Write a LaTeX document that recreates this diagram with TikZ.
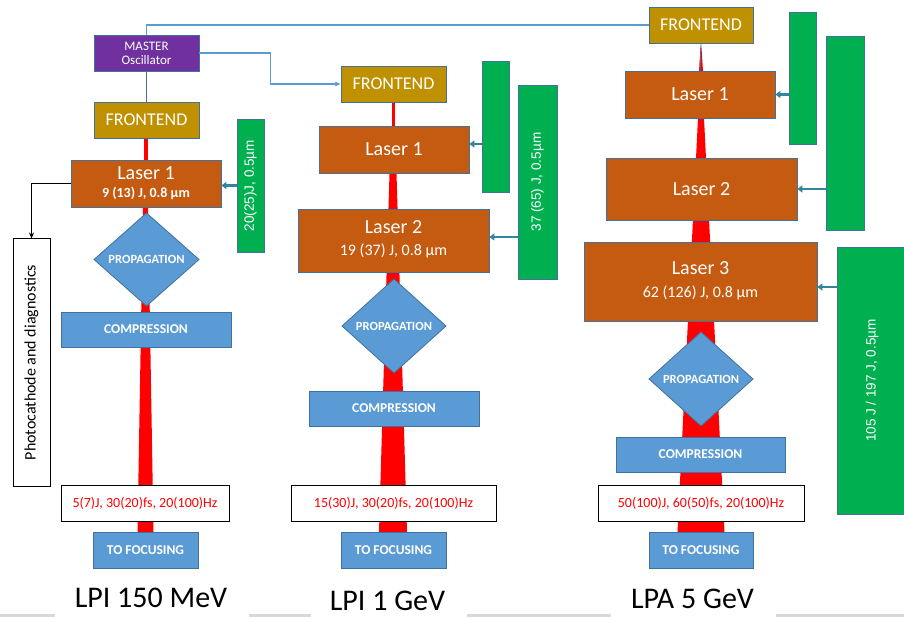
\documentclass[tikz,border=0pt]{standalone}
\usepackage{fontspec}
\setmainfont{Carlito}
\newfontfamily\gfont{Liberation Sans}
\usetikzlibrary{arrows.meta}
\definecolor{mpurple}{HTML}{7030A0}
\definecolor{mgold}{HTML}{BF9000}
\definecolor{morange}{HTML}{C55A11}
\definecolor{mgreen}{HTML}{00B050}
\definecolor{mblue}{HTML}{5B9BD5}
\definecolor{medge}{HTML}{41719C}
\definecolor{mteal}{HTML}{31859C}
\definecolor{mred}{HTML}{FF0000}
\definecolor{mgray}{HTML}{D9D9D9}
\newcommand\myfs[1]{\fontsize{#1}{#1}\selectfont}
\pgfdeclarelayer{bg}
\pgfsetlayers{bg,main}
\begin{document}
\begin{tikzpicture}[x=1pt,y=-1pt,
  box/.style={draw=medge, line width=0.8pt, inner sep=0pt, text=white, align=center},
  osc/.style={box, fill=mpurple, minimum width=105pt, minimum height=36pt, font=\myfs{13}},
  front/.style={box, fill=mgold, minimum height=36pt, font=\myfs{18}},
  laser/.style={box, fill=morange},
  ltext/.style={text=white, inner sep=0pt, font=\myfs{20}},
  lsub/.style={text=white, inner sep=0pt, font=\myfs{16}},
  gbar/.style={box, fill=mgreen},
  gtext/.style={rotate=90, text=white, inner sep=0pt, font=\gfont\myfs{13.5}},
  bluebox/.style={box, fill=mblue, minimum height=35pt, font=\bfseries\myfs{13.5}},
  diam/.style={fill=mblue, draw=medge, line width=0.8pt},
  dtext/.style={text=white, inner sep=0pt, font=\bfseries\myfs{12.5}},
  outbox/.style={draw=black, line width=1pt, fill=white, minimum height=36pt, inner sep=0pt, text=mred, font=\myfs{14}},
  beam/.style={fill=mred},
  feed/.style={mteal, line width=2.5pt, -{Triangle[length=5pt,width=7pt]}},
  sync/.style={mblue, line width=1.1pt},
  title/.style={anchor=base, inner sep=0pt, font=\myfs{30}}]
\useasboundingbox (0,0) rectangle (904,617);

% ---------- left column: LPI 150 MeV ----------
\node[osc] (master) at (146.5,53) {MASTER\\[1pt]Oscillator};
\node[front, minimum width=105pt] (feL) at (146.5,120) {FRONTEND};
\node[laser, minimum width=150pt, minimum height=47pt] (laserL1) at (146,183.5) {};
\node[ltext] (laserL1a) at (146,173) {Laser 1};
\node[lsub, font=\bfseries\myfs{14}] (laserL1b) at (146,193) {9 (13) J, 0.8 µm};
\node[gbar, minimum width=27pt, minimum height=133pt] (greenL) at (250.5,185.5) {};
\node[gtext] (greenLt) at (greenL.center) {20(25)J, 0.5µm};
\node[draw=black, line width=1pt, fill=white, minimum width=37pt, minimum height=247pt, inner sep=0pt] (photo) at (31.5,362.5) {};
\node[rotate=90, inner sep=0pt, font=\myfs{16}] (photot) at (photo.center) {Photocathode and diagnostics};
\path[diam] (94,259.5) -- (146.5,213) -- (199,259.5) -- (146.5,306) -- cycle;
\node[dtext] (propL) at (146.5,259.5) {PROPAGATION};
\node[bluebox, minimum width=170pt] (compL) at (146,329.5) {COMPRESSION};
\node[outbox, minimum width=168pt] (outL) at (145,503) {5(7)J, 30(20)fs, 20(100)Hz};
\node[bluebox, minimum width=105pt, minimum height=36pt] (focL) at (145.5,550) {TO FOCUSING};
\node[title] (tL) at (151,607) {LPI 150 MeV};

% ---------- middle column: LPI 1 GeV ----------
\node[front, minimum width=105pt] (feM) at (393.5,84) {FRONTEND};
\node[laser, minimum width=150pt, minimum height=47pt, font=\myfs{20}] (laserM1) at (394,149.5) {Laser 1};
\node[gbar, minimum width=27pt, minimum height=131pt] (greenM1) at (495.5,126.5) {};
\node[laser, minimum width=191pt, minimum height=63pt] (laserM2) at (393.5,240.5) {};
\node[ltext] (laserM2a) at (393.5,227) {Laser 2};
\node[lsub] (laserM2b) at (393.5,251) {19 (37) J, 0.8 µm};
\node[gbar, minimum width=39pt, minimum height=194pt] (greenM2) at (537.5,182) {};
\node[gtext] (greenM2t) at (greenM2.center) {37 (65) J, 0.5µm};
\path[diam] (342,326) -- (394,279) -- (446,326) -- (394,373) -- cycle;
\node[dtext] (propM) at (394,326) {PROPAGATION};
\node[bluebox, minimum width=170pt] (compM) at (394,408.5) {COMPRESSION};
\node[outbox, minimum width=205pt] (outM) at (393.5,503) {15(30)J, 30(20)fs, 20(100)Hz};
\node[bluebox, minimum width=105pt, minimum height=36pt] (focM) at (393.5,550) {TO FOCUSING};
\node[title] (tM) at (387.5,610.5) {LPI 1 GeV};

% ---------- right column: LPA 5 GeV ----------
\node[front, minimum width=104pt] (feR) at (701,25) {FRONTEND};
\node[laser, minimum width=150pt, minimum height=47pt, font=\myfs{20}] (laserR1) at (700,94.5) {Laser 1};
\node[gbar, minimum width=27pt, minimum height=132pt] (greenR1) at (802.5,78) {};
\node[laser, minimum width=191pt, minimum height=62pt, font=\myfs{20}] (laserR2) at (701.5,189) {Laser 2};
\node[gbar, minimum width=38pt, minimum height=194pt] (greenR2) at (845,133) {};
\node[laser, minimum width=233pt, minimum height=79pt] (laserR3) at (700.5,281.5) {};
\node[ltext] (laserR3a) at (700.5,268) {Laser 3};
\node[lsub] (laserR3b) at (700.5,292.5) {62 (126) J, 0.8 µm};
\node[gbar, minimum width=69pt, minimum height=267pt] (greenR3) at (871.5,380.5) {};
\node[gtext] (greenR3t) at (872,380.5) {105 J / 197 J, 0.5µm};
\path[diam] (649,379) -- (701,332) -- (753,379) -- (701,426) -- cycle;
\node[dtext] (propR) at (701,379) {PROPAGATION};
\node[bluebox, minimum width=169pt] (compR) at (700.5,454.5) {COMPRESSION};
\node[outbox, minimum width=206pt] (outR) at (701,503) {50(100)J, 60(50)fs, 20(100)Hz};
\node[bluebox, minimum width=104pt, minimum height=36pt] (focR) at (701,550) {TO FOCUSING};
\node[title] (tR) at (692.5,608) {LPA 5 GeV};

% ---------- laser beams (behind the boxes) ----------
\begin{pgfonlayer}{bg}
  \fill[beam] (144.3,138) rectangle (147.7,160);
  \fill[beam] (143,207) -- (148,207) -- (153.5,532) -- (137.5,532) -- cycle;
  \fill[beam] (391.5,102) rectangle (395,126);
  \fill[beam] (389.5,173) -- (396.5,173) -- (407,532) -- (379,532) -- cycle;
  \fill[beam] (700.5,48) -- (701.5,48) -- (703,71) -- (699,71) -- cycle;
  \fill[beam] (698,118) -- (704,118) -- (724.5,532) -- (677.5,532) -- cycle;
  \draw[medge, line width=0.8pt] (feR.south) -- (laserR1.north);
\end{pgfonlayer}

% ---------- connectors ----------
\draw[medge, line width=1.5pt] (master.south) -- (feL.north);
\draw[sync] (master.north) |- (feR.west);
\draw[sync, -{Stealth[length=6pt,width=5pt]}] (master.east) -- ++(71,0) |- (feM.west);
\draw[black, line width=1pt, -{Stealth[length=6pt,width=5pt]}] (laserL1.west) -| (photo.north);

\coordinate (yM1) at (0,144);
\coordinate (yM2) at (0,237);
\coordinate (yR3) at (0,287);
\draw[feed] (greenL.west) -- (greenL.west -| laserL1.east);
\draw[feed] (greenM1.west |- yM1) -- (laserM1.east |- yM1);
\draw[feed] (greenM2.west |- yM2) -- (laserM2.east |- yM2);
\draw[feed] (greenR1.west |- laserR1.east) -- (laserR1.east);
\draw[feed] (greenR2.west |- laserR2.east) -- (laserR2.east);
\draw[feed] (greenR3.west |- yR3) -- (laserR3.east |- yR3);

% ---------- bottom rules ----------
\draw[mgray, line width=3pt] (0,615.5) -- (55,615.5);
\draw[mgray, line width=3pt] (249,615.5) -- (311,615.5);
\draw[mgray, line width=3pt] (467,615.5) -- (611,615.5);
\draw[mgray, line width=3pt] (776,615.5) -- (904,615.5);
\end{tikzpicture}
\end{document}
